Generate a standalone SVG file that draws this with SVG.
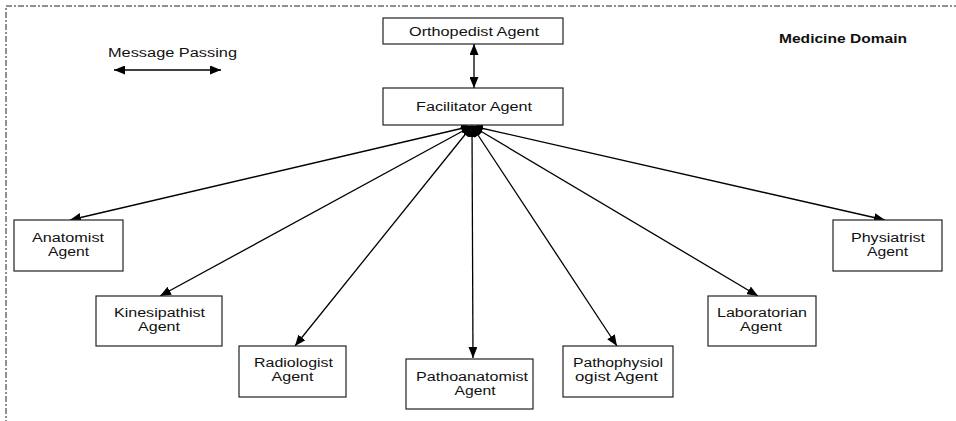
<svg xmlns="http://www.w3.org/2000/svg" width="956" height="421" viewBox="0 0 956 421">
<style>
.box{fill:#fff;stroke:#222;stroke-width:1.2}
.t{font-family:"Liberation Sans",Arial,sans-serif;font-size:12px;fill:#111;text-anchor:middle}
.b{font-weight:bold}
.c{stroke:#000;stroke-width:1.3;fill:none;marker-start:url(#ah);marker-end:url(#ah)}
</style>
<defs>
<marker id="ah" markerUnits="userSpaceOnUse" markerWidth="12" markerHeight="9" refX="11" refY="4.5" orient="auto-start-reverse" viewBox="0 0 12 9">
<path d="M0,0 L11,4.5 L0,9 z" fill="#000"/>
</marker>
</defs>
<rect id="frame" x="6" y="6" width="970" height="440" fill="none" stroke="#222" stroke-width="1" stroke-dasharray="6,2,2,2"/>
<g id="legend">
<text class="t" x="172.5" y="57" textLength="129" lengthAdjust="spacingAndGlyphs">Message Passing</text>
<line class="c" x1="114" y1="70" x2="221" y2="70"/>
</g>
<text id="domain" class="t b" x="843" y="43" textLength="128" lengthAdjust="spacingAndGlyphs">Medicine Domain</text>
<g id="connectors">
<line class="c" x1="474" y1="44" x2="474" y2="88"/>
<line class="c" x1="472" y1="126" x2="70" y2="220"/>
<line class="c" x1="472" y1="126" x2="160" y2="296"/>
<line class="c" x1="472" y1="126" x2="295" y2="346"/>
<line class="c" x1="472" y1="126" x2="473" y2="358"/>
<line class="c" x1="472" y1="126" x2="617" y2="346"/>
<line class="c" x1="472" y1="126" x2="758" y2="296"/>
<line class="c" x1="472" y1="126" x2="885" y2="220"/>
</g>
<g id="orthopedist">
<rect class="box" x="383" y="18" width="180" height="26"/>
<text class="t" x="474" y="36" textLength="130" lengthAdjust="spacingAndGlyphs">Orthopedist Agent</text>
</g>
<g id="facilitator">
<rect class="box" x="383" y="88" width="180" height="37"/>
<text class="t" x="474" y="111" textLength="116" lengthAdjust="spacingAndGlyphs">Facilitator Agent</text>
</g>
<g id="anatomist">
<rect class="box" x="14" y="220" width="109" height="51"/>
<text class="t" x="68" y="242" textLength="72" lengthAdjust="spacingAndGlyphs">Anatomist</text>
<text class="t" x="68.5" y="256" textLength="41" lengthAdjust="spacingAndGlyphs">Agent</text>
</g>
<g id="kinesipathist">
<rect class="box" x="96" y="296" width="126" height="50"/>
<text class="t" x="159.5" y="317" textLength="91" lengthAdjust="spacingAndGlyphs">Kinesipathist</text>
<text class="t" x="159" y="331" textLength="42" lengthAdjust="spacingAndGlyphs">Agent</text>
</g>
<g id="radiologist">
<rect class="box" x="239" y="346" width="107" height="51"/>
<text class="t" x="293.5" y="367" textLength="79" lengthAdjust="spacingAndGlyphs">Radiologist</text>
<text class="t" x="292.5" y="381" textLength="42" lengthAdjust="spacingAndGlyphs">Agent</text>
</g>
<g id="pathoanatomist">
<rect class="box" x="406" y="359" width="127" height="50"/>
<text class="t" x="472" y="381" textLength="112" lengthAdjust="spacingAndGlyphs">Pathoanatomist</text>
<text class="t" x="475" y="395" textLength="41" lengthAdjust="spacingAndGlyphs">Agent</text>
</g>
<g id="pathophysiologist">
<rect class="box" x="563" y="346" width="110" height="51"/>
<text class="t" x="618" y="367" textLength="90" lengthAdjust="spacingAndGlyphs">Pathophysiol</text>
<text class="t" x="616.5" y="381" textLength="83" lengthAdjust="spacingAndGlyphs">ogist Agent</text>
</g>
<g id="laboratorian">
<rect class="box" x="708" y="296" width="108" height="50"/>
<text class="t" x="762" y="317" textLength="90" lengthAdjust="spacingAndGlyphs">Laboratorian</text>
<text class="t" x="761" y="331" textLength="42" lengthAdjust="spacingAndGlyphs">Agent</text>
</g>
<g id="physiatrist">
<rect class="box" x="833" y="220" width="109" height="51"/>
<text class="t" x="888" y="242" textLength="74" lengthAdjust="spacingAndGlyphs">Physiatrist</text>
<text class="t" x="887.5" y="256" textLength="41" lengthAdjust="spacingAndGlyphs">Agent</text>
</g>
</svg>
